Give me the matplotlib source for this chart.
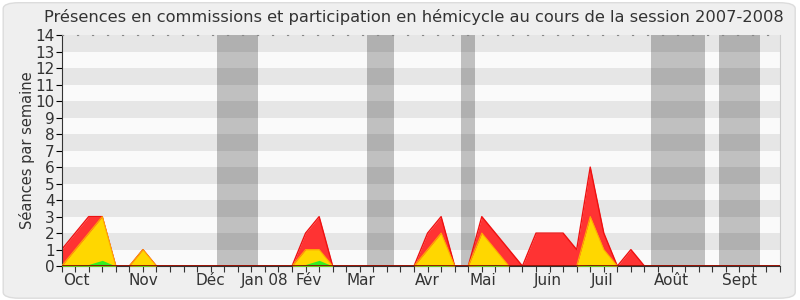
import numpy as np
import matplotlib.pyplot as plt
from matplotlib.patches import FancyBboxPatch

# weekly values, session 2007-2008 (54 weeks, index 0..53)
total = [1, 2, 3, 3, 0, 0, 1, 0, 0, 0, 0, 0, 0, 0, 0, 0, 0, 0, 2, 3,
         0, 0, 0, 0, 0, 0, 0, 2, 3, 0, 0, 3, 2, 1, 0, 2, 2, 2, 1, 6,
         2, 0, 1, 0, 0, 0, 0, 0, 0, 0, 0, 0, 0, 0]
commission = [0, 1, 2, 3, 0, 0, 1, 0, 0, 0, 0, 0, 0, 0, 0, 0, 0, 0, 1, 1,
              0, 0, 0, 0, 0, 0, 0, 1, 2, 0, 0, 2, 1, 0, 0, 0, 0, 0, 0, 3,
              1, 0, 0, 0, 0, 0, 0, 0, 0, 0, 0, 0, 0, 0]
hemicycle = [0.05, 0.05, 0.1, 0.35, 0, 0, 0.05, 0, 0, 0, 0, 0, 0, 0, 0, 0, 0, 0, 0.1, 0.35,
             0, 0, 0, 0, 0, 0, 0, 0.05, 0.05, 0, 0, 0.05, 0.1, 0, 0, 0, 0, 0, 0, 0.1,
             0.05, 0, 0, 0, 0, 0, 0, 0, 0, 0, 0, 0, 0, 0]

# vacation periods (in week index)
vacances = [(11.5, 14.5), (22.5, 24.5), (29.5, 30.5), (43.5, 47.5), (48.5, 51.5)]

mois = ['Oct', 'Nov', 'Déc', 'Jan 08', 'Fév', 'Mar', 'Avr', 'Mai', 'Juin', 'Juil', 'Août', 'Sept']
mois_pos = [1.1, 6.0, 11.0, 15.0, 18.2, 22.1, 27.0, 31.1, 35.9, 39.9, 45.0, 50.0]

weeks = np.arange(len(total))

fig = plt.figure(figsize=(8, 3), dpi=100)
fig.patch.set_facecolor('white')
bg = FancyBboxPatch((0.004, 0.006), 0.99, 0.985, boxstyle='round,pad=0,rounding_size=0.02',
                    transform=fig.transFigure, facecolor='#efefef', edgecolor='#dcdcdc', lw=1,
                    zorder=-10)
fig.patches.append(bg)

ax = fig.add_axes([0.077, 0.113, 0.898, 0.77])
ax.set_facecolor('#fafafa')

# horizontal stripes
for y in range(1, 14, 2):
    ax.axhspan(y, y + 1, color='#e6e6e6', lw=0, zorder=0)

for a, b in vacances:
    ax.axvspan(a, b, color='black', alpha=0.23, lw=0, zorder=1)

ax.fill_between(weeks, total, color='#ff3333', lw=0, zorder=2)
ax.plot(weeks, total, color='#ee1111', lw=1, zorder=2)
ax.fill_between(weeks, commission, color='#ffd700', lw=0, zorder=3)
ax.plot(weeks, commission, color='#ffaa00', lw=0.8, zorder=3)
ax.fill_between(weeks, hemicycle, color='#33ee22', lw=0, zorder=4)
ax.plot(weeks, np.zeros(len(weeks)), color='#880000', lw=1.2, zorder=5)

ax.set_xlim(0, len(total) - 1)
ax.set_ylim(0, 14)
ax.set_yticks(range(0, 15))
ax.set_xticks(weeks)
ax.set_xticklabels([])
ax.tick_params(axis='x', which='major', length=4, direction='out', color='#333333')
ax.tick_params(axis='y', length=4, direction='out', labelsize=11, labelcolor='#333333', pad=1)
for lab, p in zip(mois, mois_pos):
    ax.text(p, -0.03, lab, transform=ax.get_xaxis_transform(), ha='center', va='top',
            fontsize=11, color='#333333')

ax.spines['top'].set_linestyle((0, (1, 12.5)))
ax.spines['top'].set_color('#888888')
ax.spines['top'].set_linewidth(0.8)
ax.spines['right'].set_color('#cccccc')
ax.spines['left'].set_color('#333333')
ax.spines['bottom'].set_color('#333333')

ax.set_ylabel('Séances par semaine', fontsize=10.5, color='#333333', labelpad=0)
fig.text(0.517, 0.943, 'Présences en commissions et participation en hémicycle au cours de la session 2007-2008',
         ha='center', va='center', fontsize=11.7, color='#333333')

fig.savefig('out.png', dpi=100, facecolor=fig.get_facecolor())
